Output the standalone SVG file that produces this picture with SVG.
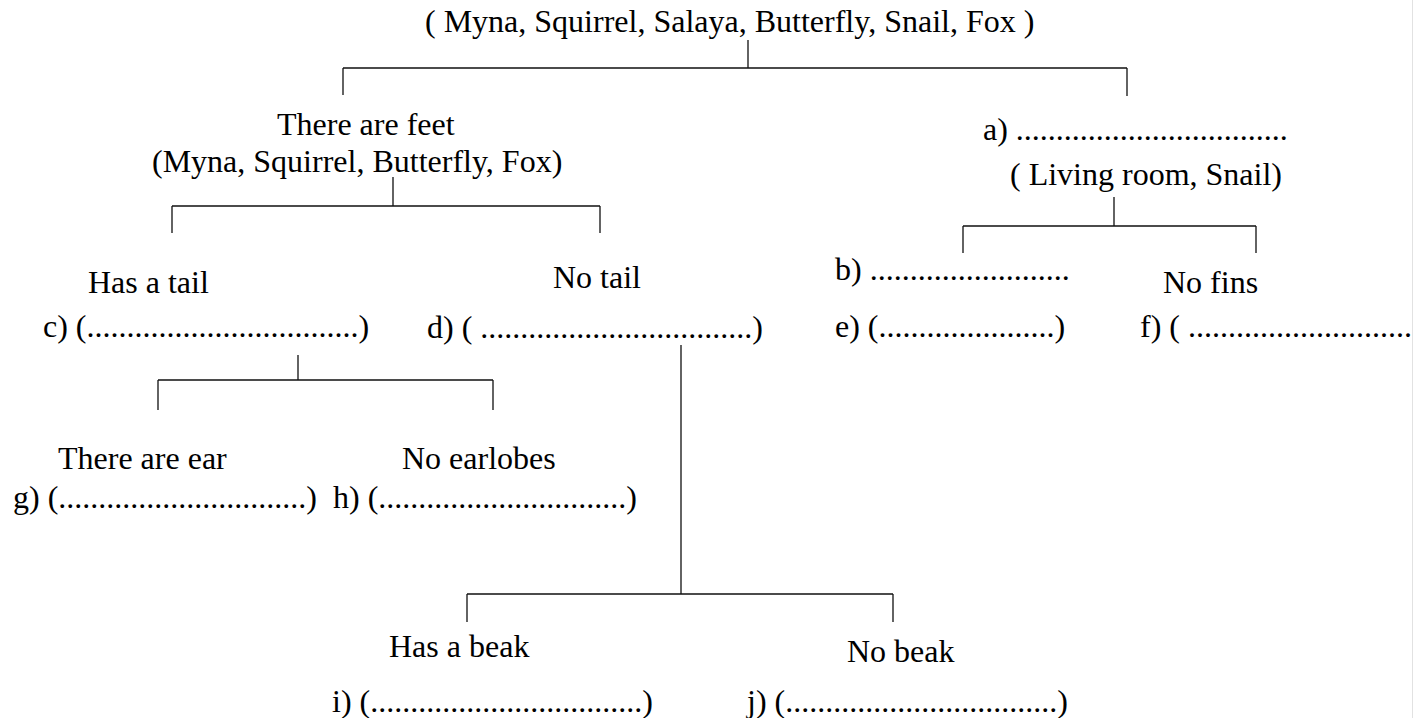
<svg xmlns="http://www.w3.org/2000/svg" width="1413" height="718" viewBox="0 0 1413 718">
<style>
text{font-family:"Liberation Serif","Times New Roman",serif;font-size:32px;fill:#000}
.ln{stroke:#111;stroke-width:1.3;fill:none}
</style>
<rect width="1413" height="718" fill="#fff"/>
<line x1="1412.5" y1="0" x2="1412.5" y2="718" stroke="#e2e2e2" stroke-width="1"/>
<g id="connectors" class="ln">
<path d="M748,40V68M343,68H1127M343,68V95M1127,68V96"/>
<path d="M393,177V206M172,206H600M172,206V233M600,206V233"/>
<path d="M1114,197V226M963,226H1256M963,226V253M1256,226V253"/>
<path d="M298,355V380M158,380H493M158,380V410M493,380V410"/>
<path d="M681,345V594M467,594H893M467,594V622M893,594V622"/>
</g>
<g id="root"><text x="425" y="32">( Myna, Squirrel, Salaya, Butterfly, Snail, Fox )</text></g>
<g id="feet"><text x="277" y="135">There are feet</text><text x="152" y="172">(Myna, Squirrel, Butterfly, Fox)</text></g>
<g id="nofeet"><text x="983" y="140">a) ..................................</text><text x="1010" y="185">( Living room, Snail)</text></g>
<g id="hastail"><text x="88" y="293">Has a tail</text><text x="43" y="337">c) (..................................)</text></g>
<g id="notail"><text x="553" y="288">No tail</text><text x="427" y="338">d) ( ..................................)</text></g>
<g id="fins"><text x="835" y="280">b) .........................</text><text x="835" y="337">e) (......................)</text></g>
<g id="nofins"><text x="1163" y="293">No fins</text><text x="1140" y="337">f) ( ............................</text></g>
<g id="ear"><text x="58" y="469">There are ear</text><text x="13" y="508">g) (...............................)</text></g>
<g id="noear"><text x="402" y="469">No earlobes</text><text x="333" y="508">h) (...............................)</text></g>
<g id="beak"><text x="389" y="657">Has a beak</text><text x="332" y="712">i) (..................................)</text></g>
<g id="nobeak"><text x="847" y="662">No beak</text><text x="747" y="712">j) (..................................)</text></g>
</svg>
